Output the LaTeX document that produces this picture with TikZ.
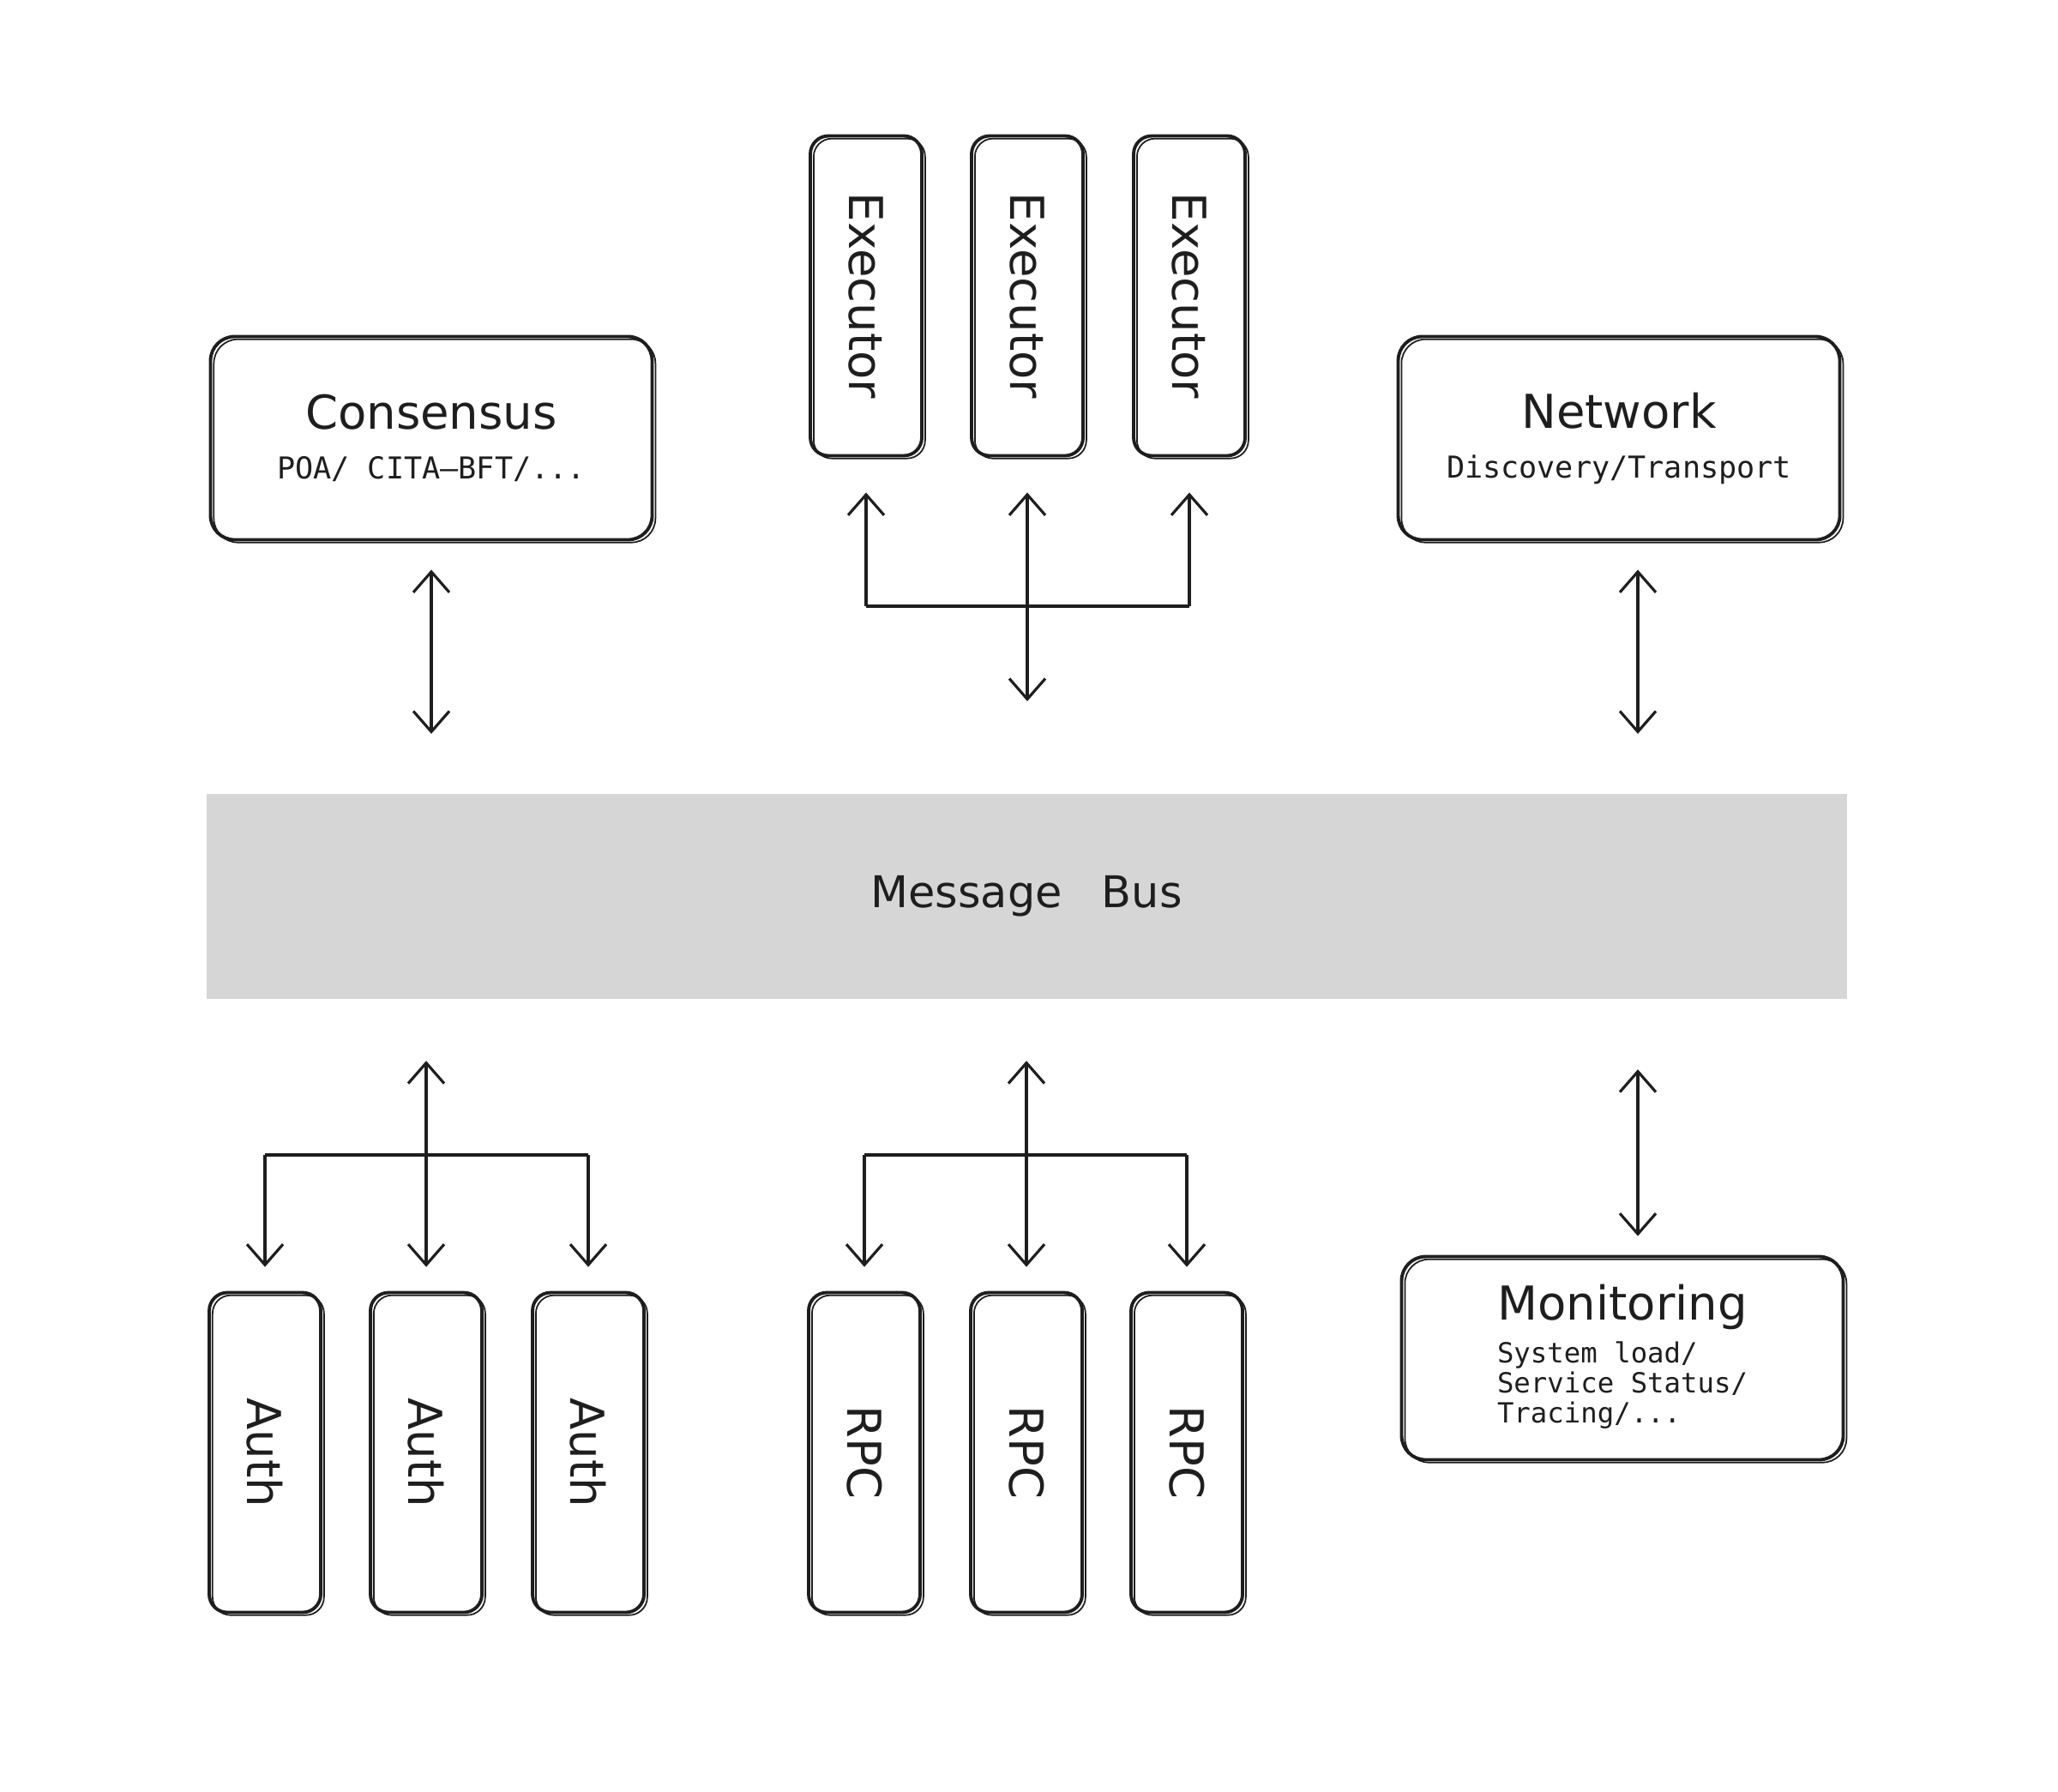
\documentclass[tikz,border=0pt]{standalone}
\usepackage{fontspec}
\setmainfont{DejaVu Sans}
\setmonofont{DejaVu Sans Mono}
\usetikzlibrary{arrows.meta, positioning, calc}
\definecolor{ink}{HTML}{1E1E1E}
\definecolor{busgray}{HTML}{D6D6D6}
\newcommand{\ttlfont}{\rmfamily\fontsize{15.5}{18}\selectfont}
\newcommand{\subfont}{\ttfamily\fontsize{10}{10.5}\selectfont}

\begin{document}
\begin{tikzpicture}[
    >={Straight Barb[length=2.4mm, width=4.2mm]},
    sketch/.style={draw=ink, line width=1.1pt, rounded corners=8pt,
        preaction={draw=ink, line width=0.5pt, transform canvas={shift={(1.1pt,-0.9pt)}}}},
    svc_box/.style={sketch, minimum width=5.15cm, minimum height=2.37cm, align=center, text=ink, font=\subfont},
    tall_box/.style={sketch, rounded corners=6pt, minimum width=1.3cm, minimum height=3.73cm, text=ink, font=\ttlfont},
    bus_box/.style={fill=busgray, minimum width=19.13cm, minimum height=2.39cm, text=ink, font=\rmfamily\fontsize{14.5}{17}\selectfont},
    link/.style={draw=ink, line width=0.9pt}
]

\useasboundingbox (0,0) rectangle (24,-20.89);

% TOP ROW
\node[svc_box] (cons) at (5.03,-5.11) {{\ttlfont Consensus}\\[6pt]POA/ CITA—BFT/...};
\node[svc_box] (net) at (18.88,-5.11) {{\ttlfont Network}\\[6pt]Discovery/Transport};

\node[tall_box] (ex1) at (10.10,-3.45) {\rotatebox{-90}{Executor}};
\node[tall_box] (ex2) at (11.98,-3.45) {\rotatebox{-90}{Executor}};
\node[tall_box] (ex3) at (13.87,-3.45) {\rotatebox{-90}{Executor}};

% MESSAGE BUS
\node[bus_box] (bus) at (11.97,-10.45) {Message\hspace{0.3cm} Bus};

% BOTTOM ROW
\node[tall_box] (auth1) at (3.09,-16.94) {\rotatebox{-90}{Auth}};
\node[tall_box] (auth2) at (4.97,-16.94) {\rotatebox{-90}{Auth}};
\node[tall_box] (auth3) at (6.86,-16.94) {\rotatebox{-90}{Auth}};

\node[tall_box] (rpc1) at (10.08,-16.94) {\rotatebox{-90}{RPC}};
\node[tall_box] (rpc2) at (11.97,-16.94) {\rotatebox{-90}{RPC}};
\node[tall_box] (rpc3) at (13.84,-16.94) {\rotatebox{-90}{RPC}};

\node[svc_box] (mon) at (18.92,-15.84) {{\ttlfont Monitoring}\\[3pt]%
  {\fontsize{9.2}{10.5}\selectfont\renewcommand{\arraystretch}{0.92}\begin{tabular}{@{}l@{}}System load/\\Service Status/\\Tracing/...\end{tabular}}};

% LINKS TO THE BUS
\draw[link, <->, shorten <=0.33cm, shorten >=0.69cm] (cons.south) -- (cons.south |- bus.north);
\draw[link, <->, shorten <=0.33cm, shorten >=0.69cm] ([xshift=0.22cm]net.south) -- ([xshift=0.22cm]net.south |- bus.north);
\draw[link, <->, shorten <=0.82cm, shorten >=0.22cm] ([xshift=0.18cm]mon.north |- bus.south) -- ([xshift=0.18cm]mon.north);

% EXECUTOR FAN
\coordinate (ex_bar) at (ex2.south |- 0,-7.07);
\draw[link] (ex1.south |- ex_bar) -- (ex3.south |- ex_bar);
\foreach \n in {ex1,ex3}
  \draw[link, ->, shorten >=0.41cm] (\n.south |- ex_bar) -- (\n.south);
\draw[link, <->, shorten <=0.41cm, shorten >=1.07cm] (ex2.south) -- (ex2.south |- bus.north);

% AUTH FAN
\coordinate (auth_bar) at (auth2.north |- 0,-13.47);
\draw[link] (auth1.north |- auth_bar) -- (auth3.north |- auth_bar);
\foreach \n in {auth1,auth3}
  \draw[link, ->, shorten >=0.28cm] (\n.north |- auth_bar) -- (\n.north);
\draw[link, <->, shorten <=0.72cm, shorten >=0.28cm] (auth2.north |- bus.south) -- (auth2.north);

% RPC FAN
\coordinate (rpc_bar) at (rpc2.north |- 0,-13.47);
\draw[link] (rpc1.north |- rpc_bar) -- (rpc3.north |- rpc_bar);
\foreach \n in {rpc1,rpc3}
  \draw[link, ->, shorten >=0.28cm] (\n.north |- rpc_bar) -- (\n.north);
\draw[link, <->, shorten <=0.72cm, shorten >=0.28cm] (rpc2.north |- bus.south) -- (rpc2.north);

\end{tikzpicture}
\end{document}
